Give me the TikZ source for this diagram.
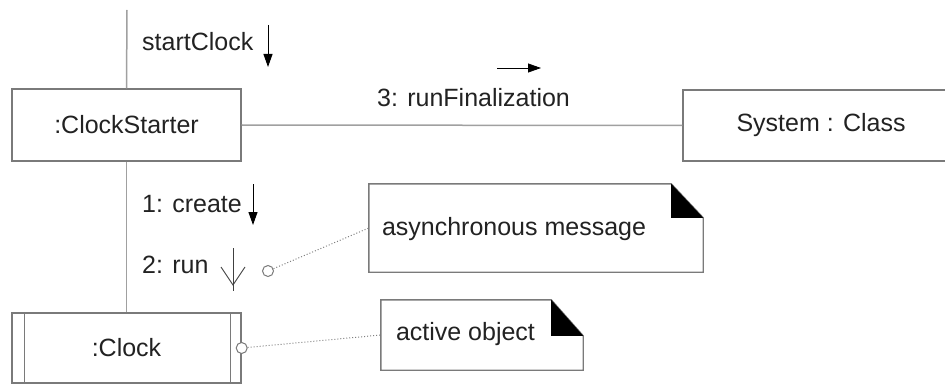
\documentclass[tikz,border=0pt]{standalone}
\usepackage{fontspec}
\setmainfont{Liberation Sans}
\usetikzlibrary{arrows.meta}
\definecolor{boxgray}{HTML}{7A7A7A}
\definecolor{linkgray}{HTML}{A0A0A0}
\definecolor{txt}{HTML}{222222}
\tikzset{
  objbox/.style={draw=boxgray, line width=1.4pt, rectangle, inner sep=0pt, text=txt, font=\fontsize{25}{30}\selectfont},
  link/.style={draw=linkgray, line width=1.5pt},
  msg/.style={draw=black, line width=1pt, -{Triangle[length=13pt,width=9pt]}},
  lbl/.style={text=txt, font=\fontsize{25}{30}\selectfont, inner sep=0pt},
  notearea/.style={inner sep=0pt, draw=none},
  noteline/.style={draw=boxgray, line width=1.4pt},
  anchorcirc/.style={circle, draw=boxgray, line width=1pt, fill=white, minimum size=11pt, inner sep=0pt},
  dotline/.style={draw=gray, line width=1pt, dotted},
  asyncarrow/.style={draw=darkgray, line width=0.9pt}
}
\begin{document}
\begin{tikzpicture}[x=1pt,y=-1pt]
\useasboundingbox (0,0) rectangle (945,385);
\clip (0,0) rectangle (945,385);

% objects
\node[objbox, minimum width=229pt, minimum height=72pt] (cs) at (126.5,125) {:ClockStarter};
\node[objbox, minimum width=276pt, minimum height=71pt] (sys) at (821,125.5) {System : Class};
\node[objbox, minimum width=229pt, minimum height=70pt] (clk) at (126.5,348) {:Clock};
\draw[boxgray, line width=1.2pt] ([xshift=13pt]clk.north west) -- ([xshift=13pt]clk.south west);
\draw[boxgray, line width=1.2pt] ([xshift=-11pt]clk.north east) -- ([xshift=-11pt]clk.south east);

% links
\coordinate (top) at (127,10);
\draw[link] (top) -- (cs.north);
\draw[link] (cs.south) -- (clk.north);
\draw[link] (cs.east) -- (sys.west);

% messages
\node[lbl, anchor=west] (m0) at (142,42) {startClock};
\draw[msg] (268,25) -- (268,67);
\node[lbl, anchor=west] (m3) at (377,98) {3: runFinalization};
\draw[msg, line width=0.8pt] (497,68) -- (541,68);
\node[lbl, anchor=west] (m1) at (142,204) {1: create};
\draw[msg] (253,184) -- (253,225);
\node[lbl, anchor=west] (m2) at (142,265) {2: run};
\draw[asyncarrow] (233,248) -- (233,291);
\draw[asyncarrow] (221,267) -- (233,285) -- (245,267);

% note 1: asynchronous message
\node[notearea, minimum width=334pt, minimum height=88pt] (n1) at (536,228) {};
\draw[noteline, fill=white] (n1.south west) -- (n1.north west) -- ([xshift=-32pt]n1.north east) -- ([yshift=-34pt]n1.north east) -- (n1.south east) -- cycle;
\fill[black] ([xshift=-32pt]n1.north east) -- ([xshift=-32pt,yshift=-34pt]n1.north east) -- ([yshift=-34pt]n1.north east) -- cycle;
\node[lbl, anchor=west] (t1) at ([xshift=13pt,yshift=-1pt]n1.west) {asynchronous message};

% note 2: active object
\node[notearea, minimum width=202pt, minimum height=70pt] (n2) at (482,335) {};
\draw[noteline, fill=white] (n2.south west) -- (n2.north west) -- ([xshift=-32pt]n2.north east) -- ([yshift=-36pt]n2.north east) -- (n2.south east) -- cycle;
\fill[black] ([xshift=-32pt]n2.north east) -- ([xshift=-32pt,yshift=-36pt]n2.north east) -- ([yshift=-36pt]n2.north east) -- cycle;
\node[lbl, anchor=west] (t2) at ([xshift=15pt,yshift=1pt]n2.west) {active object};

% note attachments
\node[anchorcirc] (c1) at (268,271) {};
\node[anchorcirc] (c2) at (clk.east) {};
\draw[dotline] (c1) -- (n1.west);
\draw[dotline] (c2) -- (n2.west);
\end{tikzpicture}
\end{document}
